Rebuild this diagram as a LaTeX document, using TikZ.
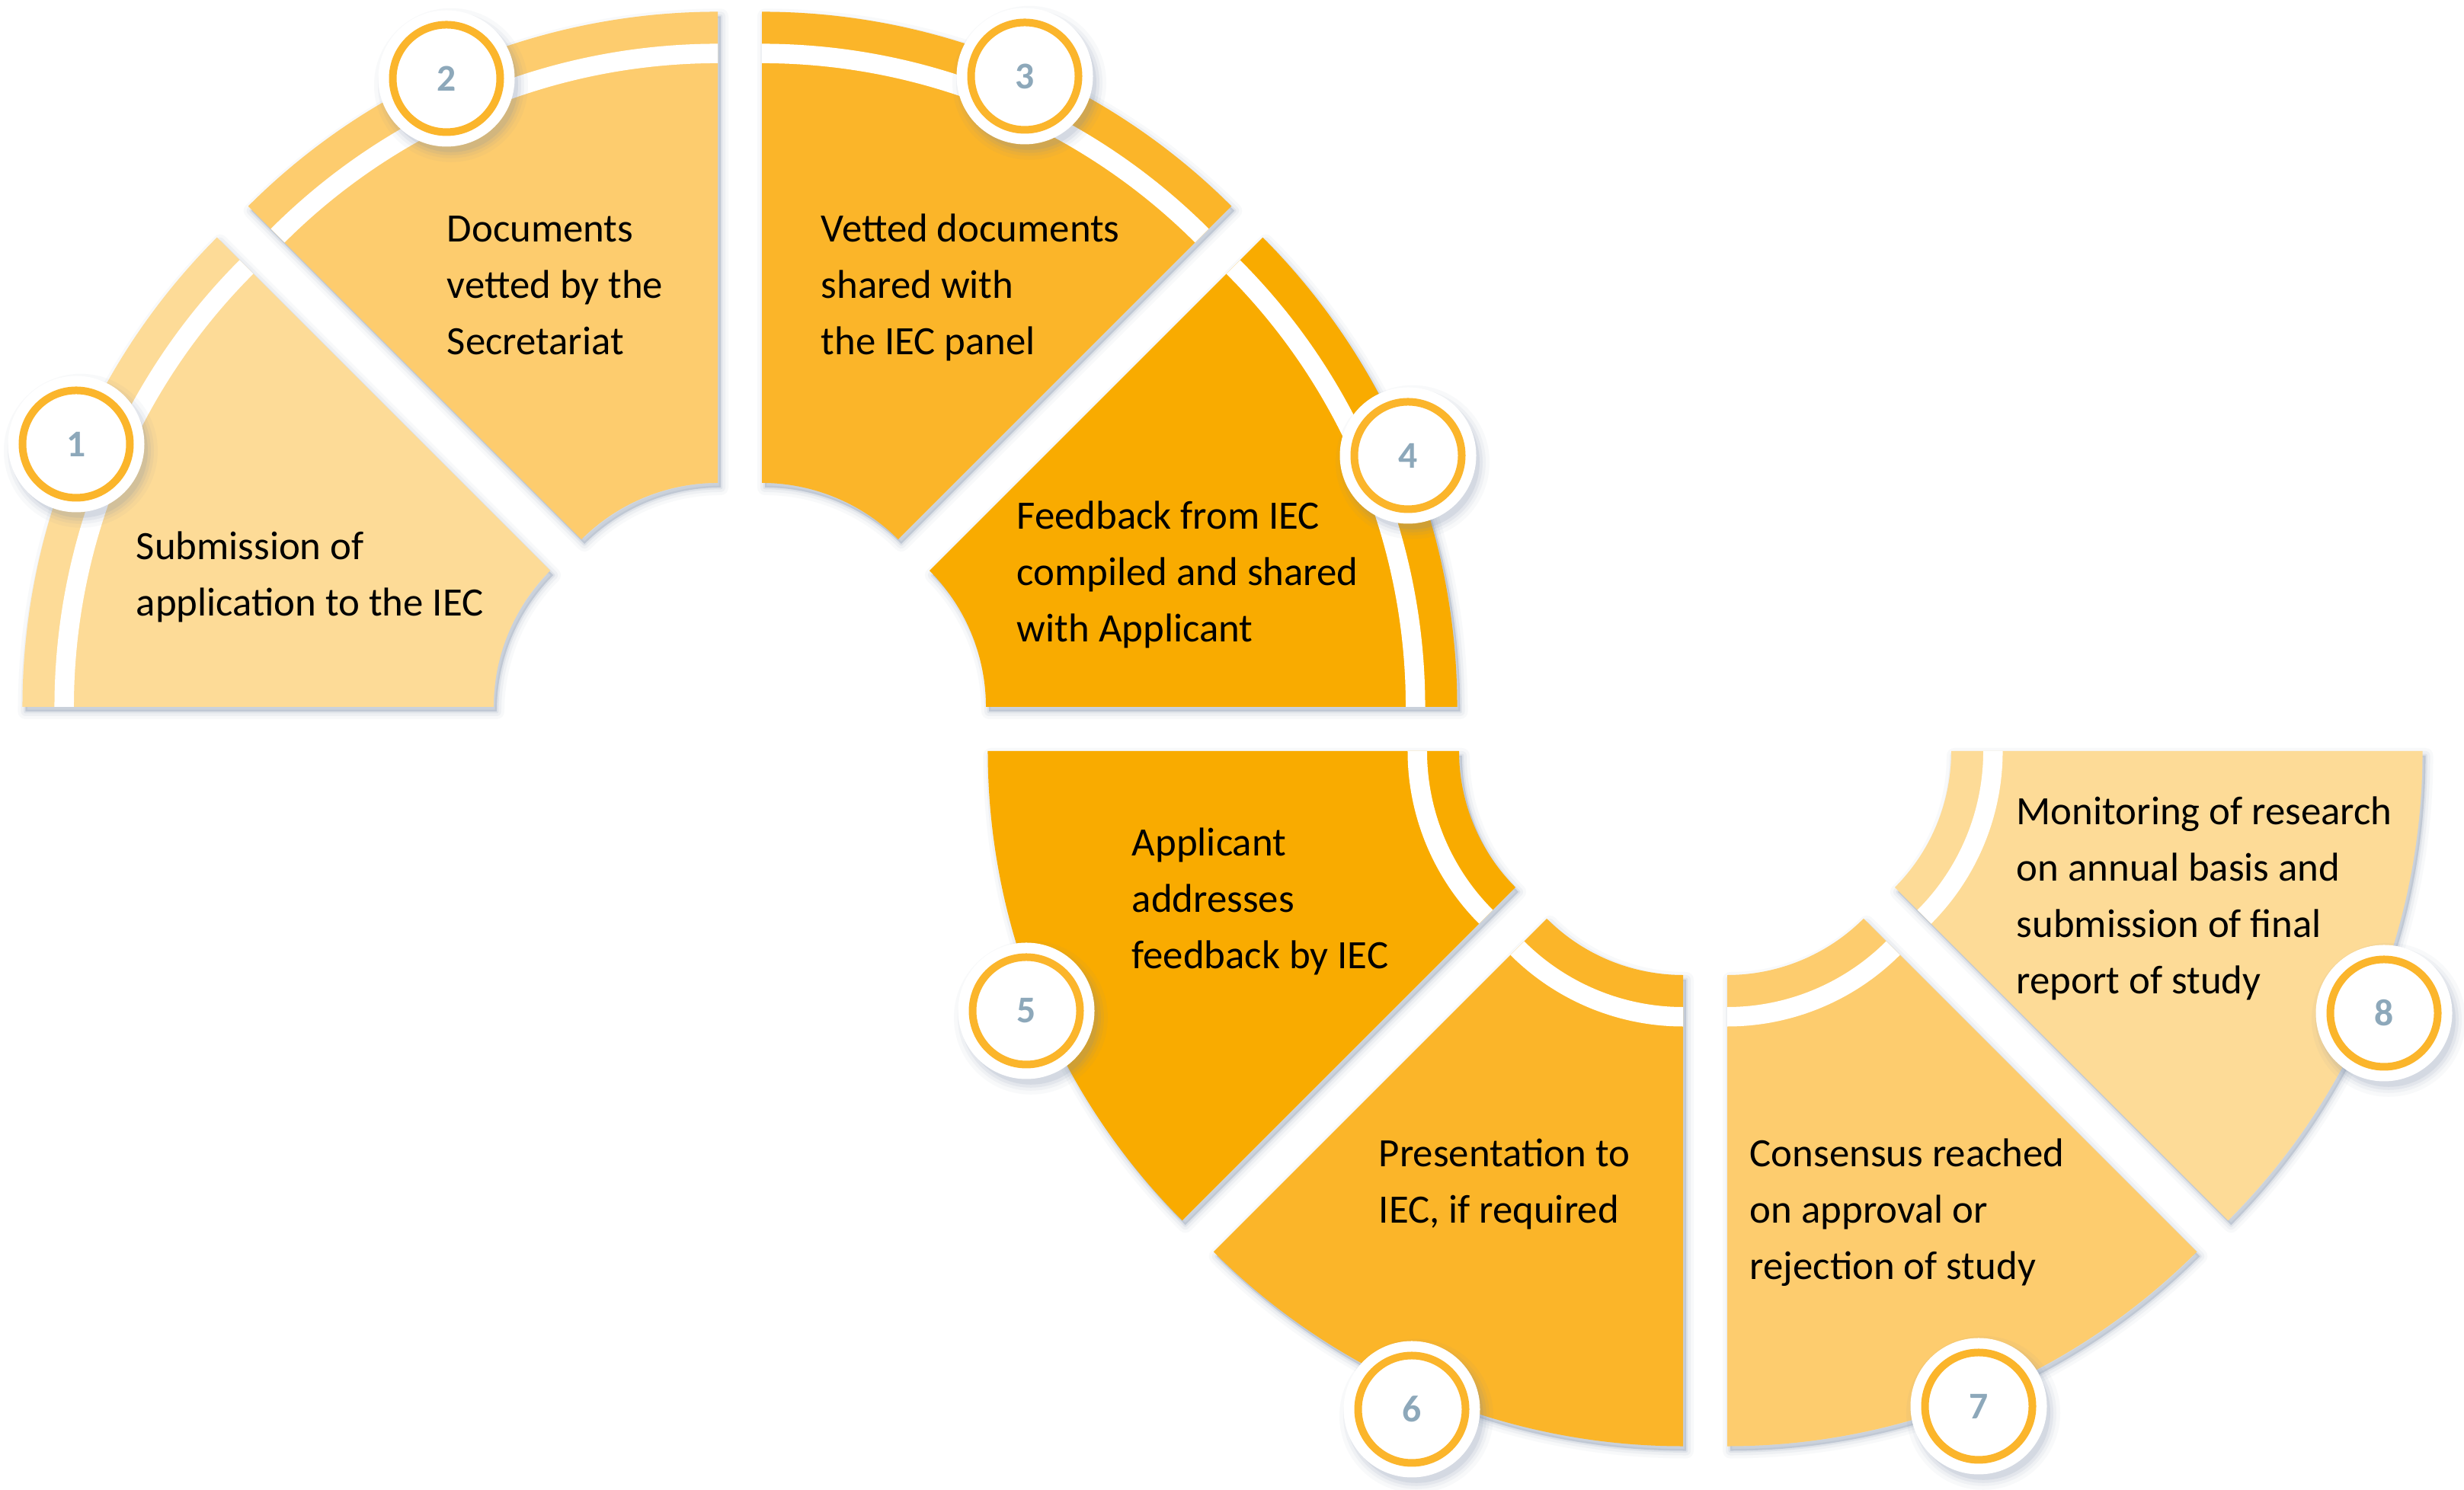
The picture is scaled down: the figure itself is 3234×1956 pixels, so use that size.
\documentclass[tikz,border=0pt]{standalone}
\usepackage{fontspec}
\setmainfont{Carlito}
\usetikzlibrary{calc}

\definecolor{segA}{HTML}{FDDB97}
\definecolor{segB}{HTML}{FDCC6E}
\definecolor{segC}{HTML}{FBB529}
\definecolor{segD}{HTML}{F9AB00}
\definecolor{ringc}{HTML}{FBB52B}
\definecolor{numc}{HTML}{8DA8BA}
\definecolor{shadowc}{HTML}{7A8CA6}

% annular sector: centre, start angle, end angle, inner radius, outer radius
\newcommand\annsec[5]{($(#1)+(#2:#5)$) arc[start angle=#2,end angle=#3,radius=#5] -- ($(#1)+(#3:#4)$) arc[start angle=#3,end angle=#2,radius=#4] -- cycle}

\tikzset{
  % anchored at the baseline of the last line
  steptext/.style={anchor=base west, align=left, inner sep=0pt, text=black,
    font=\fontsize{13.2}{18.5}\selectfont},
  numbadge/.style={circle, inner sep=0pt, minimum size=35.25pt, fill=white,
    draw=ringc, line width=2.5pt, preaction={draw=white, line width=9.5pt},
    text=numc, font=\bfseries\fontsize{12.4}{13}\selectfont},
}

\begin{document}
\begin{tikzpicture}[x=0.25pt,y=0.25pt]
\useasboundingbox (0,0) rectangle (3234,1956);
\fill[white] (0,0) rectangle (3234,1956);

% ring centres
\coordinate (C1) at (971,999);
\coordinate (C2) at (2238,999);
% exploded segment centres
\coordinate (s1) at ($(C1)+(157.5:75.8)$);
\coordinate (s2) at ($(C1)+(112.5:75.8)$);
\coordinate (s3) at ($(C1)+(67.5:75.8)$);
\coordinate (s4) at ($(C1)+(22.5:75.8)$);
\coordinate (s5) at ($(C2)+(202.5:75.8)$);
\coordinate (s6) at ($(C2)+(247.5:75.8)$);
\coordinate (s7) at ($(C2)+(292.5:75.8)$);
\coordinate (s8) at ($(C2)+(337.5:75.8)$);

% soft shadows of the segments
\begin{scope}[transform canvas={shift={(1pt,-1.5pt)}}]
  \foreach \s/\a/\b in {s1/135/180,s2/90/135,s3/45/90,s4/0/45,s5/180/225,s6/225/270,s7/270/315,s8/315/360}{
    \draw[shadowc, line width=5pt, draw opacity=0.05, line join=round] \annsec{\s}{\a}{\b}{253}{871.5};
    \draw[shadowc, line width=3pt, draw opacity=0.08, line join=round] \annsec{\s}{\a}{\b}{253}{871.5};
    \draw[shadowc, line width=1.2pt, draw opacity=0.12, line join=round] \annsec{\s}{\a}{\b}{253}{871.5};
    \fill[shadowc, fill opacity=0.3] \annsec{\s}{\a}{\b}{253}{871.5};
  }
\end{scope}

% upper ring: stripe near the outer edge
\foreach \s/\a/\b/\c in {s1/135/180/segA,s2/90/135/segB,s3/45/90/segC,s4/0/45/segD}{
  \fill[\c] \annsec{\s}{\a}{\b}{253}{871.5};
  \fill[white] \annsec{\s}{\a}{\b}{804}{829.5};
}
% lower ring: stripe near the inner edge
\foreach \s/\a/\b/\c in {s5/180/225/segD,s6/225/270/segC,s7/270/315/segB,s8/315/360/segA}{
  \fill[\c] \annsec{\s}{\a}{\b}{253}{871.5};
  \fill[white] \annsec{\s}{\a}{\b}{295}{320.5};
}

% badge positions
\coordinate (p1) at (100,1373);
\coordinate (p2) at (586,1853);
\coordinate (p3) at (1345,1856);
\coordinate (p4) at (1848,1358);
\coordinate (p5) at (1347,629);
\coordinate (p6) at (1853,106);
\coordinate (p7) at (2597,110);
\coordinate (p8) at (3129,626);

% badge shadows
\begin{scope}[transform canvas={shift={(1.5pt,-2.2pt)}}]
  \foreach \p in {p1,p2,p3,p4,p5,p6,p7,p8}{
    \fill[shadowc, fill opacity=0.05] (\p) circle[radius=101];
    \fill[shadowc, fill opacity=0.07] (\p) circle[radius=96];
    \fill[shadowc, fill opacity=0.10] (\p) circle[radius=92];
    \fill[shadowc, fill opacity=0.14] (\p) circle[radius=88];
  }
\end{scope}

% numbered badges
\node[numbadge] (c1) at (p1) {1};
\node[numbadge] (c2) at (p2) {2};
\node[numbadge] (c3) at (p3) {3};
\node[numbadge] (c4) at (p4) {4};
\node[numbadge] (c5) at (p5) {5};
\node[numbadge] (c6) at (p6) {6};
\node[numbadge] (c7) at (p7) {7};
\node[numbadge] (c8) at (p8) {8};

% step descriptions
\node[steptext] (t1) at (178,1147) {Submission of\\application to the IEC};
\node[steptext] (t2) at (586,1490) {Documents\\vetted by the\\Secretariat};
\node[steptext] (t3) at (1077,1490) {Vetted documents\\shared with\\the IEC panel};
\node[steptext] (t4) at (1334,1113) {Feedback from IEC\\compiled and shared\\with Applicant};
\node[steptext] (t5) at (1485,684) {Applicant\\addresses\\feedback by IEC};
\node[steptext] (t6) at (1809,350) {Presentation to\\IEC, if required};
\node[steptext] (t7) at (2296,276) {Consensus reached\\on approval or\\rejection of study};
\node[steptext] (t8) at (2646,651) {Monitoring of research\\on annual basis and\\submission of final\\report of study};
\end{tikzpicture}
\end{document}
